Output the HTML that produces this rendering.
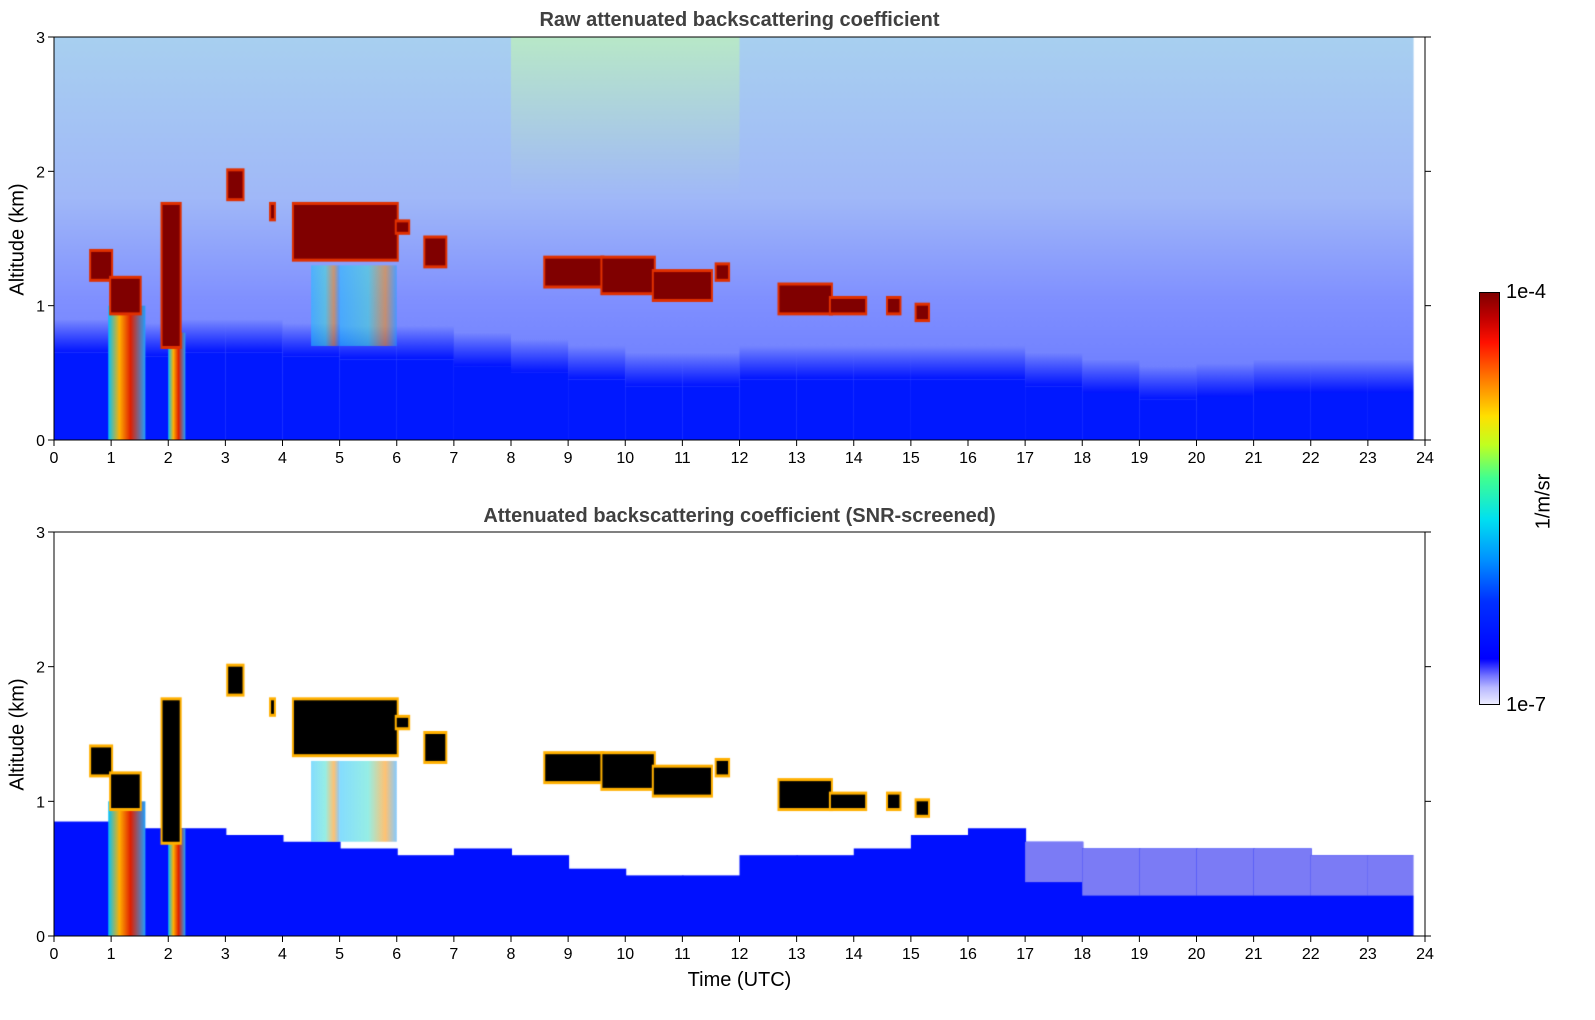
<!DOCTYPE html>
<html><head><meta charset="utf-8">
<style>
body{margin:0;background:#fff;width:1595px;height:1020px;position:relative;overflow:hidden;font-family:"Liberation Sans","DejaVu Sans",sans-serif;}
.abs{position:absolute;}
.title{font-weight:bold;color:#404040;font-size:20px;text-align:center;width:1371px;}
.tl{font-size:16px;color:#000;}
.ylab{font-size:20px;transform:rotate(-90deg);transform-origin:center;white-space:nowrap;}
</style></head><body>
<div class="abs title" style="left:54px;top:9px;">Raw attenuated backscattering coefficient</div>
<div class="abs title" style="left:54px;top:505px;">Attenuated backscattering coefficient (SNR-screened)</div>
<canvas id="c1" class="abs" width="1371" height="403" style="left:54px;top:37px"></canvas>
<canvas id="c2" class="abs" width="1371" height="404" style="left:54px;top:532px"></canvas>
<svg id="ax" class="abs" width="1595" height="1020" style="left:0;top:0"></svg>
<div class="abs ylab" style="left:-42px;top:228px;width:120px;text-align:center">Altitude (km)</div>
<div class="abs ylab" style="left:-42px;top:723px;width:120px;text-align:center">Altitude (km)</div>
<div class="abs" style="left:54px;width:1371px;text-align:center;top:969px;font-size:20px">Time (UTC)</div>
<div class="abs" style="left:1479px;top:292px;width:21px;height:413px;border:1px solid #000;box-sizing:border-box;background:linear-gradient(to top,#ececff 0%,#b8b8ff 4%,#7070ff 7%,#0000ff 11%,#0030ff 25%,#0090ff 35%,#00e0f0 45%,#40ff90 55%,#c0ff20 63%,#ffe000 70%,#ff7000 80%,#ff1000 88%,#c00000 94%,#800000 100%)"></div>
<div class="abs tl" style="left:1506px;top:281px;font-size:20px">1e-4</div>
<div class="abs tl" style="left:1506px;top:694px;font-size:20px">1e-7</div>
<div class="abs ylab" style="left:1514px;top:490px;width:60px;text-align:center">1/m/sr</div>
<script>
const hours=[0,1,2,3,4,5,6,7,8,9,10,11,12,13,14,15,16,17,18,19,20,21,22,23,23.8];
const rawBL=[0.75,0.72,0.75,0.75,0.72,0.7,0.7,0.65,0.6,0.55,0.5,0.5,0.55,0.55,0.55,0.55,0.55,0.5,0.45,0.4,0.42,0.45,0.45,0.45,0.45];
const snrTop=[0.85,0.8,0.8,0.75,0.7,0.65,0.6,0.65,0.6,0.5,0.45,0.45,0.6,0.6,0.65,0.75,0.8,0.7,0.65,0.65,0.65,0.65,0.6,0.6,0.6];
const lightBase=[0,0,0,0,0,0,0,0,0,0,0,0,0,0,0,0,0,0.4,0.3,0.3,0.3,0.3,0.3,0.3,0.3];
const cStart=[0.65,1.0,1.9,3.05,3.8,4.2,6.0,6.5,8.6,9.6,10.5,11.6,12.7,13.6,14.6,15.1];
const cEnd=[1.0,1.5,2.2,3.3,3.85,6.0,6.2,6.85,9.6,10.5,11.5,11.8,13.6,14.2,14.8,15.3];
const cBase=[1.2,0.95,0.7,1.8,1.65,1.35,1.55,1.3,1.15,1.1,1.05,1.2,0.95,0.95,0.95,0.9];
const cTop=[1.4,1.2,1.75,2.0,1.75,1.75,1.62,1.5,1.35,1.35,1.25,1.3,1.15,1.05,1.05,1.0];
// fall streaks: start, end, top, bottom (km)
const fStart=[0.95,2.0,4.5,5.0];
const fEnd=[1.6,2.3,5.0,6.0];
const fTop=[1.0,0.8,1.3,1.3];
const fBot=[0,0,0.7,0.7];
const W=1371;
function X(t){return t/24*W;}
function Y(h,H){return (3-h)/3*H;}
function draw(id,H,raw){
  const ctx=document.getElementById(id).getContext('2d');
  ctx.fillStyle='#fff';ctx.fillRect(0,0,W,H);
  for(let i=0;i<hours.length-1;i++){
    const x0=X(hours[i]),x1=X(hours[i+1]);
    if(raw){
      let g=ctx.createLinearGradient(0,0,0,H);
      const gr=(hours[i]>=8&&hours[i]<12);
      g.addColorStop(0,gr?'#b8e8c8':'#a8d0f0');g.addColorStop(0.4,'#a0b8f8');g.addColorStop(0.65,'#8090ff');g.addColorStop(1,'#6070ff');
      ctx.fillStyle=g;ctx.fillRect(x0,0,x1-x0+1,H);
      const bl=rawBL[i];
      let g2=ctx.createLinearGradient(0,Y(bl+0.15,H),0,Y(bl-0.1,H));
      g2.addColorStop(0,'rgba(0,20,255,0)');g2.addColorStop(1,'rgba(0,20,255,1)');
      ctx.fillStyle=g2;ctx.fillRect(x0,Y(bl+0.15,H),x1-x0+1,Y(bl-0.1,H)-Y(bl+0.15,H));
      ctx.fillStyle='#0018ff';ctx.fillRect(x0,Y(bl-0.1,H),x1-x0+1,H-Y(bl-0.1,H));
    }else{
      const t=snrTop[i];
      ctx.fillStyle='#0010ff';ctx.fillRect(x0,Y(t,H),x1-x0+1,H-Y(t,H));
      if(lightBase[i]>0){ctx.fillStyle='#7b7bf5';ctx.fillRect(x0,Y(t,H),x1-x0+1,Y(lightBase[i],H)-Y(t,H));}
    }
  }
  for(let i=0;i<fStart.length;i++){
    const a=X(fStart[i]),b=X(fEnd[i]);
    let g=ctx.createLinearGradient(a,0,b,0);
    if(i<2){g.addColorStop(0,'#00c0ff');g.addColorStop(0.3,'#ffb000');g.addColorStop(0.6,'#e02000');g.addColorStop(1,'#20a0ff');ctx.globalAlpha=1;}
    else{g.addColorStop(0,'#20c0ff');g.addColorStop(0.5,'#40e0d0');g.addColorStop(0.8,'#ff9000');g.addColorStop(1,'#20a0ff');ctx.globalAlpha=0.55;}
    ctx.fillStyle=g;
    ctx.fillRect(a,Y(fTop[i],H),b-a,Y(fBot[i],H)-Y(fTop[i],H));
  }
  ctx.globalAlpha=1;
  for(let i=0;i<cStart.length;i++){
    const x0=X(cStart[i]),x1=X(cEnd[i]),y0=Y(cTop[i],H),y1=Y(cBase[i],H);
    ctx.fillStyle=raw?'#e03000':'#ffb000';ctx.fillRect(x0-2,y0-3,x1-x0+4,y1-y0+6);
    ctx.fillStyle=raw?'#800000':'#000';ctx.fillRect(x0,y0,x1-x0,y1-y0);
  }
  ctx.fillStyle='#fff';ctx.fillRect(X(23.8),0,W-X(23.8),H);
}
draw('c1',403,true);draw('c2',404,false);
const svg=document.getElementById('ax');const NS='http://www.w3.org/2000/svg';
function el(tag,attrs,txt){const e=document.createElementNS(NS,tag);for(const k in attrs)e.setAttribute(k,attrs[k]);if(txt!==undefined)e.textContent=txt;svg.appendChild(e);return e;}
const xTicks=[0,1,2,3,4,5,6,7,8,9,10,11,12,13,14,15,16,17,18,19,20,21,22,23,24];
const yTicks=[0,1,2,3];
[[37,403],[532,404]].forEach(([top,H],p)=>{
  const r=el('rect',{x:54,y:top,width:W,height:H,fill:'none',stroke:'#000','stroke-width':1});
  
  xTicks.forEach(t=>{const x=54+X(t);
    const l=el('line',{x1:x,x2:x,y1:top+H,y2:top+H+6,stroke:'#000'});
    
    const tx=el('text',{x:x,y:top+H+23,'font-size':16,'text-anchor':'middle','font-family':'Liberation Sans'},t);
    });
  yTicks.forEach(v=>{const y=top+Y(v,H);
    const l=el('line',{x1:48,x2:54,y1:y,y2:y,stroke:'#000'});
    
    const l2=el('line',{x1:1425,x2:1431,y1:y,y2:y,stroke:'#000'});
    
    const tx=el('text',{x:45,y:y+6,'font-size':16,'text-anchor':'end','font-family':'Liberation Sans'},v);
    });
});
</script>
</body></html>
